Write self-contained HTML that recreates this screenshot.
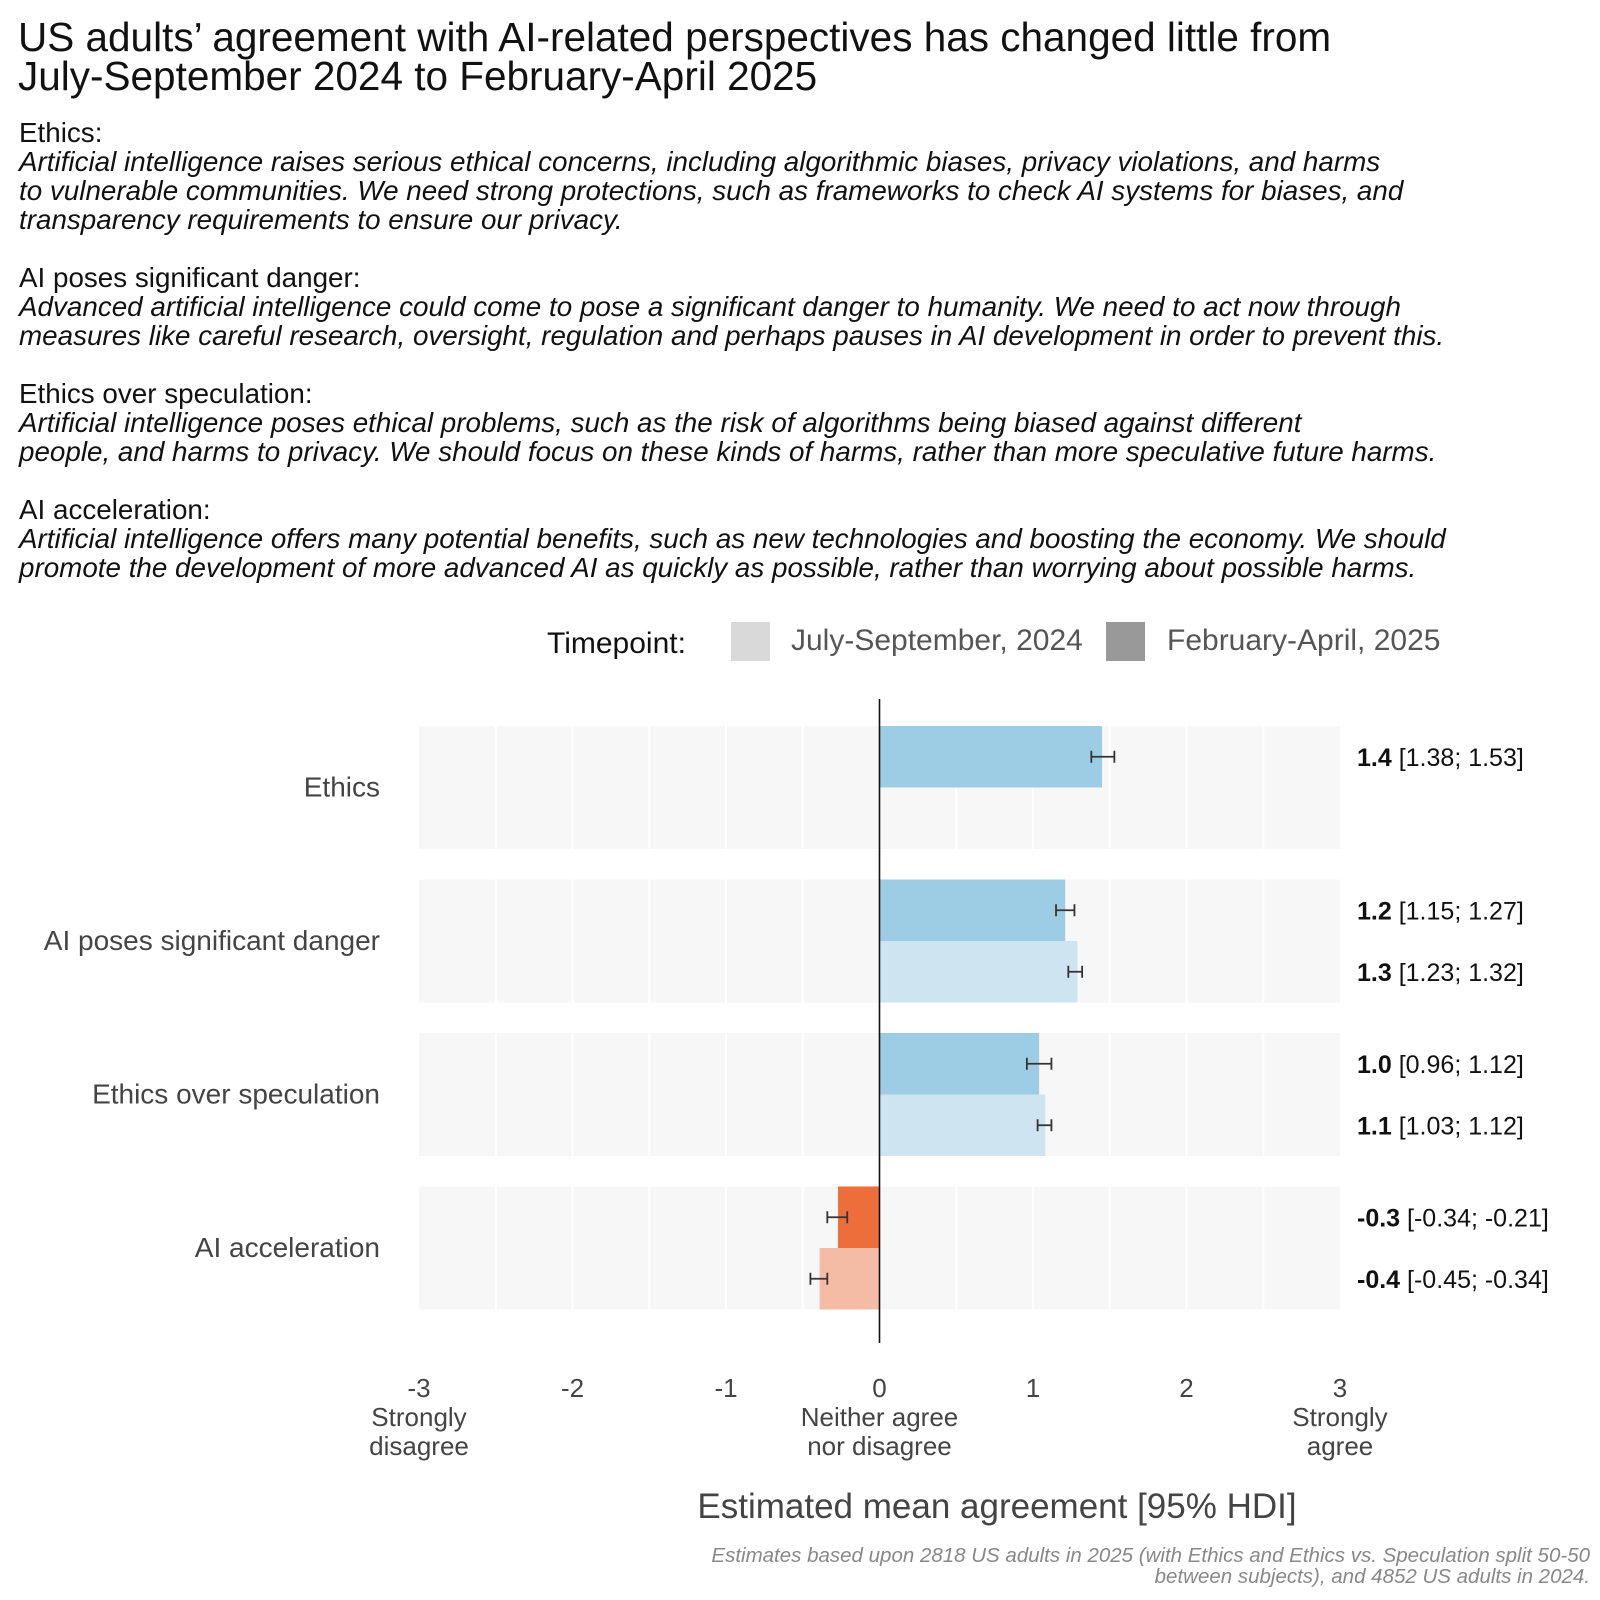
<!DOCTYPE html>
<html><head><meta charset="utf-8"><style>
body{margin:0;background:#fff;}
svg{display:block;font-family:"Liberation Sans",sans-serif;}
</style></head><body>
<svg id="c" width="1600" height="1600" viewBox="0 0 1600 1600">
<g font-size="40.5" fill="#111">
<text x="18" y="51">US adults’ agreement with AI-related perspectives has changed little from</text>
<text x="18" y="90">July-September 2024 to February-April 2025</text>
</g>
<g font-size="27.8" fill="#111">
<text x="19" y="142">Ethics:</text>
<text x="19" y="171" font-style="italic">Artificial intelligence raises serious ethical concerns, including algorithmic biases, privacy violations, and harms</text>
<text x="19" y="200" font-style="italic">to vulnerable communities. We need strong protections, such as frameworks to check AI systems for biases, and</text>
<text x="19" y="229" font-style="italic">transparency requirements to ensure our privacy.</text>
<text x="19" y="287">AI poses significant danger:</text>
<text x="19" y="316" font-style="italic">Advanced artificial intelligence could come to pose a significant danger to humanity. We need to act now through</text>
<text x="19" y="345" font-style="italic">measures like careful research, oversight, regulation and perhaps pauses in AI development in order to prevent this.</text>
<text x="19" y="403">Ethics over speculation:</text>
<text x="19" y="432" font-style="italic">Artificial intelligence poses ethical problems, such as the risk of algorithms being biased against different</text>
<text x="19" y="461" font-style="italic">people, and harms to privacy. We should focus on these kinds of harms, rather than more speculative future harms.</text>
<text x="19" y="519">AI acceleration:</text>
<text x="19" y="548" font-style="italic">Artificial intelligence offers many potential benefits, such as new technologies and boosting the economy. We should</text>
<text x="19" y="577" font-style="italic">promote the development of more advanced AI as quickly as possible, rather than worrying about possible harms.</text>
</g>
<g font-size="30">
<text x="547" y="653" fill="#111">Timepoint:</text>
<rect x="731" y="622" width="39" height="39" fill="#d9d9d9"/>
<text x="791" y="650" fill="#555">July-September, 2024</text>
<rect x="1106" y="622" width="39" height="39" fill="#999"/>
<text x="1167" y="650" fill="#555">February-April, 2025</text>
</g>
<g id="plot"></g>
<text x="997" y="1518" text-anchor="middle" font-size="35" fill="#444">Estimated mean agreement [95% HDI]</text>
<g font-size="20.5" font-style="italic" fill="#888" text-anchor="end">
<text x="1590" y="1562">Estimates based upon 2818 US adults in 2025 (with Ethics and Ethics vs. Speculation split 50-50</text>
<text x="1590" y="1583">between subjects), and 4852 US adults in 2024.</text>
</g>
</svg>
<script>
const categories=["Ethics","AI poses significant danger","Ethics over speculation","AI acceleration"];
const mean2025=[1.45,1.21,1.04,-0.27];
const lo2025=[1.38,1.15,0.96,-0.34];
const hi2025=[1.53,1.27,1.12,-0.21];
const lab2025=["1.4","1.2","1.0","-0.3"];
const mean2024=[null,1.29,1.08,-0.39];
const lo2024=[null,1.23,1.03,-0.45];
const hi2024=[null,1.32,1.12,-0.34];
const lab2024=[null,"1.3","1.1","-0.4"];
const ticks=[-3,-2,-1,0,1,2,3];
const tickSub={"-3":["Strongly","disagree"],"0":["Neither agree","nor disagree"],"3":["Strongly","agree"]};
const NS="http://www.w3.org/2000/svg";
const g=document.getElementById('plot');
const x=v=>879.5+v*153.5;
const bandTop=i=>726+i*153.5;
const bandH=123;
function mk(t,a,p){const e=document.createElementNS(NS,t);for(const k in a)e.setAttribute(k,a[k]);(p||g).appendChild(e);return e;}
categories.forEach((c,i)=>{
  const t=bandTop(i);
  const b=mk('rect',{x:x(-3),y:t,width:x(3)-x(-3),height:bandH,fill:'#f7f7f7'});
  
  
  for(let v=-2.5;v<3;v+=0.5){if(v===0)continue;
    const l=mk('line',{x1:x(v),x2:x(v),y1:t,y2:t+bandH,stroke:'#fff','stroke-width':2});
    
    
  }
  const lab=mk('text',{x:380,y:t+bandH/2+9,'text-anchor':'end','font-size':28,fill:'#444'});
  lab.textContent=c;
  
  
  const rows=[[mean2025[i],lo2025[i],hi2025[i],lab2025[i],0,mean2025[i]<0?'#ee6e3b':'#9ccde4'],
              [mean2024[i],lo2024[i],hi2024[i],lab2024[i],1,mean2024[i]!==null&&mean2024[i]<0?'#f4bca4':'#cfe4f1']];
  rows.forEach(([m,lo,hi,lb,k,col])=>{
    if(m===null)return;
    const y0=t+k*bandH/2, h=bandH/2, cy=y0+h/2;
    const r=mk('rect',{x:Math.min(x(0),x(m)),y:y0,width:Math.abs(x(m)-x(0)),height:h,fill:col});
    
    
    const eg=mk('g',{stroke:'#333','stroke-width':1.8});
    
    
    mk('line',{x1:x(lo),x2:x(hi),y1:cy,y2:cy},eg);
    mk('line',{x1:x(lo),x2:x(lo),y1:cy-6,y2:cy+6},eg);
    mk('line',{x1:x(hi),x2:x(hi),y1:cy-6,y2:cy+6},eg);
    const tx=mk('text',{x:1357,y:cy+9,'font-size':25,fill:'#111'});
    tx.innerHTML='<tspan font-weight="bold">'+lb+'</tspan> ['+lo.toFixed(2)+'; '+hi.toFixed(2)+']';
    
    
  });
});
const zl=mk('line',{x1:x(0),x2:x(0),y1:699,y2:1343,stroke:'#111','stroke-width':1.6});


ticks.forEach(v=>{
  const t=mk('text',{x:x(v),y:1397,'text-anchor':'middle','font-size':26,fill:'#444'});
  t.textContent=String(v);
  
  
  const s=tickSub[String(v)];
  if(s){s.forEach((w,j)=>{
    const u=mk('text',{x:x(v),y:1426+j*29,'text-anchor':'middle','font-size':26,fill:'#444'});
    u.textContent=w;
    
    
  });}
});
</script>
</body></html>
